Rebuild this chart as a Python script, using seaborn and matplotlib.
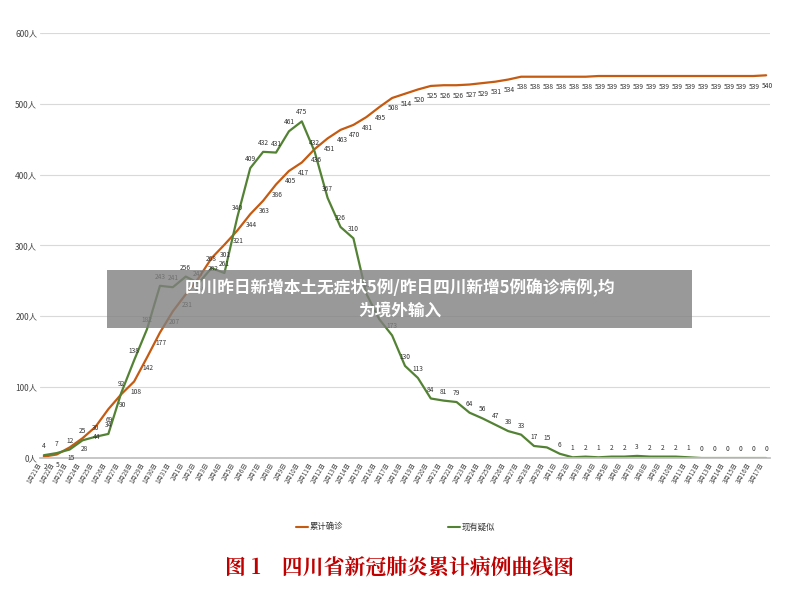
import matplotlib
matplotlib.use("Agg")
import matplotlib.pyplot as plt
import pandas as pd
import seaborn as sns
from matplotlib.patches import Rectangle

sns.set_theme(style="white")
plt.rcParams['font.family'] = ['Noto Sans CJK SC', 'DejaVu Sans']

dates = pd.date_range("2020-01-21", "2020-03-17")
date_labels = [f"{d.month}月{d.day}日" for d in dates]

confirmed = [2, 5, 15, 28, 44, 69, 90, 108, 142, 177, 207, 231, 254, 282, 301, 321,
             344, 363, 386, 405, 417, 436, 451, 463, 470, 481, 495, 508, 514, 520,
             525, 526, 526, 527, 529, 531, 534, 538, 538, 538, 538, 538, 538,
             539, 539, 539, 539, 539, 539, 539, 539, 539, 539, 539, 539, 539, 540]
suspected = [4, 7, 12, 25, 30, 34, 92, 138, 182, 243, 241, 256, 247, 268, 261, 340,
             409, 432, 431, 461, 475, 432, 367, 326, 310, 232, 196, 173, 130, 113,
             84, 81, 79, 64, 56, 47, 38, 33, 17, 15, 6, 1, 2, 1, 2, 2, 3, 2, 2, 2,
             1, 0, 0, 0, 0, 0, 0]

df = pd.DataFrame({"idx": range(len(dates)), "累计确诊": confirmed, "现有疑似": suspected})
long = df.melt(id_vars="idx", var_name="series", value_name="count")

orange = "#c55a11"
green = "#548235"

fig = plt.figure(figsize=(8, 5.96), dpi=100)
ax = fig.add_axes([0.05, 0.2315, 0.9125, 0.7135])
sns.lineplot(data=long, x="idx", y="count", hue="series",
             palette={"累计确诊": orange, "现有疑似": green}, linewidth=1.6, ax=ax, legend=False)

for i, v in enumerate(confirmed):
    ax.annotate(str(v), (i, v), xytext=(1, -9), textcoords="offset points",
                ha="center", fontsize=4.8, color="#333333")
for i, v in enumerate(suspected):
    ax.annotate(str(v), (i, v), xytext=(0, 5), textcoords="offset points",
                ha="center", fontsize=4.8, color="#333333")

ax.set_xlim(-0.3, 56.3)
ax.set_ylim(0, 600)
ax.set_yticks(range(0, 601, 100))
ax.set_yticklabels([f"{v}人" for v in range(0, 601, 100)], fontsize=6, color="#444444")
ax.set_xticks(range(len(dates)))
ax.set_xticklabels(date_labels, rotation=60, ha="right", fontsize=4.5, color="#444444")
ax.grid(axis="y", color="#d9d9d9", linewidth=0.8)
for s in ["top", "right", "left"]:
    ax.spines[s].set_visible(False)
ax.spines["bottom"].set_color("#bfbfbf")
ax.tick_params(axis="both", length=0, pad=2)
ax.set_xlabel("")
ax.set_ylabel("")

# legend
fig.lines.append(plt.Line2D([0.37, 0.385], [0.116, 0.116], color=orange, lw=1.5, transform=fig.transFigure))
fig.text(0.387, 0.116, "累计确诊", fontsize=6, va="center", color="#333333")
fig.lines.append(plt.Line2D([0.56, 0.575], [0.116, 0.116], color=green, lw=1.5, transform=fig.transFigure))
fig.text(0.577, 0.116, "现有疑似", fontsize=6, va="center", color="#333333")

fig.text(0.5, 0.048, "图 1    四川省新冠肺炎累计病例曲线图", ha="center", va="center",
         fontsize=15, color="#c00000", fontweight="bold",
         family=["Noto Serif CJK SC", "Noto Sans CJK SC", "DejaVu Sans"])

# overlay banner
fig.patches.append(Rectangle((0.134, 0.449), 0.731, 0.098, transform=fig.transFigure,
                             facecolor="#808080", alpha=0.8, edgecolor="none", zorder=5))
fig.text(0.5, 0.498, "四川昨日新增本土无症状5例/昨日四川新增5例确诊病例,均\n为境外输入",
         ha="center", va="center", fontsize=12, color="white", fontweight="bold",
         linespacing=1.3, zorder=6)

fig.savefig("out.png", dpi=100, facecolor="white")
